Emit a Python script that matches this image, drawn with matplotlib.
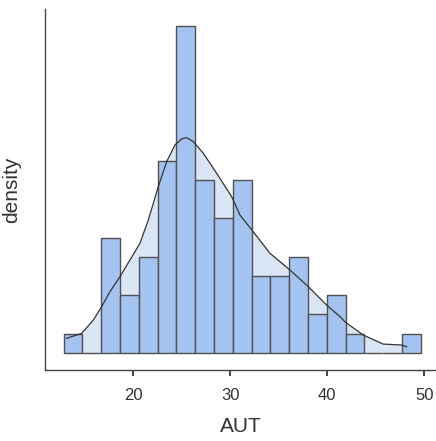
import numpy as np
import matplotlib
matplotlib.use("Agg")
import matplotlib.pyplot as plt

# Histogram of AUT (counts per bin, 19 equal bins)
hist_start = 12.82
hist_end = 49.63
counts = [1, 0, 6, 3, 5, 10, 17, 9, 7, 9, 4, 4, 5, 2, 3, 1, 0, 0, 1]

# Density curve (in count-equivalent units)
kde_x = [13.13, 14.68, 15.88, 16.74, 17.60, 18.63, 19.66, 20.69, 21.55, 22.58,
         23.44, 24.30, 24.99, 25.51, 26.19, 27.22, 28.60, 30.14, 31.00, 32.37,
         34.09, 36.15, 38.04, 39.94, 41.31, 41.82, 43.71, 45.77, 47.67, 48.19]
kde_y = [0.75, 1.01, 1.70, 2.40, 3.18, 3.96, 4.83, 5.70, 6.91, 8.65,
         9.95, 10.82, 11.13, 11.20, 10.99, 10.39, 9.34, 8.13, 7.17, 6.30,
         5.18, 4.31, 3.44, 2.48, 1.88, 1.61, 0.92, 0.45, 0.40, 0.31]

xticks = [20, 30, 40, 50]

edges = np.linspace(hist_start, hist_end, len(counts) + 1)

plt.rcParams['font.family'] = ['Liberation Sans', 'DejaVu Sans']

fig = plt.figure(figsize=(4.36, 4.41), dpi=100)
ax = fig.add_axes([45/436, (441-370)/441, (436-45)/436, (370-9)/441])

ax.fill_between(kde_x, 0, kde_y, color='#DAE5F5', zorder=1, linewidth=0)
ax.bar(edges[:-1], counts, width=np.diff(edges), align='edge',
       color='#A5C3F0', edgecolor='#505050', linewidth=1.0, zorder=2)
ax.plot(kde_x, kde_y, color='#333333', linewidth=0.9, zorder=3)

ax.set_xlim(10.90, 51.21)
ax.set_ylim(-0.90, 17.9)
ax.set_xticks(xticks)
ax.set_yticks([])
ax.spines['top'].set_visible(False)
ax.spines['right'].set_visible(False)
for s in ['left', 'bottom']:
    ax.spines[s].set_color('#444444')
    ax.spines[s].set_linewidth(1.0)
ax.tick_params(axis='x', length=4, width=1.3, color='#333333', pad=9,
               labelsize=12, labelcolor='#333333')
ax.set_xlabel('AUT', fontsize=15, color='#333333', labelpad=10)
ax.set_ylabel('density', fontsize=15, color='#333333', labelpad=17)

fig.savefig('out.png', dpi=100)
